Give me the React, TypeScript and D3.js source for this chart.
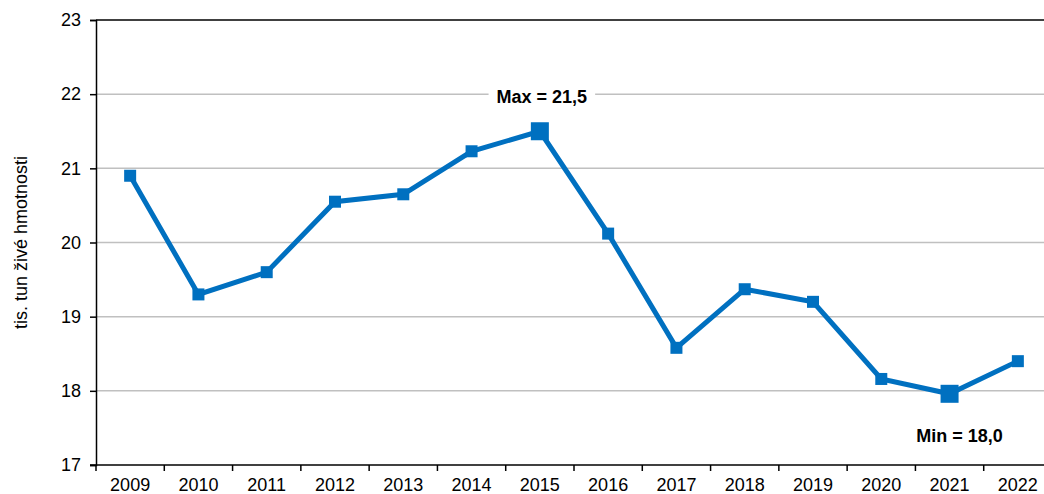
import React, { useEffect, useRef } from 'react';
import * as d3 from 'd3';

const years = ['2009', '2010', '2011', '2012', '2013', '2014', '2015', '2016', '2017', '2018', '2019', '2020', '2021', '2022'];
const values = [20.9, 19.3, 19.6, 20.55, 20.65, 21.23, 21.5, 20.12, 18.58, 19.37, 19.2, 18.16, 17.96, 18.4];
const yTicks = [17, 18, 19, 20, 21, 22, 23];

const App = () => {
    const ref = useRef<SVGSVGElement>(null);

    useEffect(() => {
        if (!ref.current) return;
        const width = 1044;
        const height = 494;
        const left = 96;
        const top = 20;
        const bottom = 465;
        const right = 1052;

        const svg = d3.select(ref.current);
        svg.selectAll('*').remove();
        svg.attr('width', width).attr('height', height)
           .style('font-family', 'Liberation Sans, Arial, sans-serif');

        const x = d3.scaleBand().domain(years).range([left, right]).padding(0);
        const y = d3.scaleLinear().domain([17, 23]).range([bottom, top]);

        // gridlines
        svg.append('g')
           .selectAll('line')
           .data(yTicks.filter(t => t > 17 && t < 23))
           .enter().append('line')
           .attr('x1', left).attr('x2', width)
           .attr('y1', d => y(d)).attr('y2', d => y(d))
           .attr('stroke', '#c0c0c0').attr('stroke-width', 1.5);

        // top border line
        svg.append('line')
           .attr('x1', left).attr('x2', width)
           .attr('y1', y(23)).attr('y2', y(23))
           .attr('stroke', '#000').attr('stroke-width', 1.5);

        // y axis
        const yAxis = svg.append('g')
           .attr('transform', `translate(${left},0)`)
           .call(d3.axisLeft(y).tickValues(yTicks).tickSize(6).tickFormat(d3.format('d')));
        yAxis.select('.domain').attr('stroke', '#000').attr('stroke-width', 1.5);
        yAxis.selectAll('.tick line').attr('stroke', '#000').attr('stroke-width', 1.5);
        yAxis.selectAll('text')
             .attr('font-size', 18).attr('fill', '#000').attr('x', -15)
             .style('font-family', 'Liberation Sans, Arial, sans-serif');

        // x axis with ticks between categories
        const xg = svg.append('g').attr('transform', `translate(0,${bottom})`);
        xg.append('line')
          .attr('x1', left - 6).attr('x2', width)
          .attr('y1', 0).attr('y2', 0)
          .attr('stroke', '#000').attr('stroke-width', 1.5);
        xg.selectAll('.xt')
          .data(years)
          .enter().append('line')
          .attr('class', 'xt')
          .attr('x1', d => x(d) as number).attr('x2', d => x(d) as number)
          .attr('y1', 0).attr('y2', 6)
          .attr('stroke', '#000').attr('stroke-width', 1.5);
        xg.selectAll('.xl')
          .data(years)
          .enter().append('text')
          .attr('class', 'xl')
          .attr('x', d => (x(d) as number) + x.bandwidth() / 2)
          .attr('y', 26)
          .attr('text-anchor', 'middle')
          .attr('font-size', 18)
          .text(d => d);

        // y axis title
        svg.append('text')
           .attr('transform', `translate(27,${(top + bottom) / 2}) rotate(-90)`)
           .attr('text-anchor', 'middle')
           .attr('font-size', 18)
           .text('tis. tun živé hmotnosti');

        const cx = (i: number) => (x(years[i]) as number) + x.bandwidth() / 2;

        // line
        const line = d3.line<number>()
           .x((_, i) => cx(i))
           .y(d => y(d));
        svg.append('path')
           .datum(values)
           .attr('d', line)
           .attr('fill', 'none')
           .attr('stroke', '#0070C0')
           .attr('stroke-width', 5)
           .attr('stroke-linejoin', 'miter');

        const maxV = d3.max(values) as number;
        const minV = d3.min(values) as number;
        const iMax = values.indexOf(maxV);
        const iMin = values.indexOf(minV);

        svg.append('g')
           .selectAll('rect')
           .data(values)
           .enter().append('rect')
           .attr('x', (d, i) => cx(i) - (i === iMax || i === iMin ? 9 : 6))
           .attr('y', (d, i) => y(d) - (i === iMax || i === iMin ? 9 : 6))
           .attr('width', (d, i) => (i === iMax || i === iMin ? 18 : 12))
           .attr('height', (d, i) => (i === iMax || i === iMin ? 18 : 12))
           .attr('fill', '#0070C0');

        // annotations
        const fmt = (v: number) => (Math.round(v * 10) / 10).toFixed(1).replace('.', ',');
        const addLabel = (txt: string, lx: number, ly: number) => {
            const g = svg.append('g');
            const t = g.append('text')
               .attr('x', lx).attr('y', ly)
               .attr('text-anchor', 'middle')
               .attr('dominant-baseline', 'central')
               .attr('font-size', 18)
               .attr('font-weight', 'bold')
               .text(txt);
            const bb = (t.node() as SVGTextElement).getBBox();
            g.insert('rect', 'text')
             .attr('x', bb.x - 8).attr('y', bb.y - 2)
             .attr('width', bb.width + 16).attr('height', bb.height + 4)
             .attr('fill', '#fff');
        };
        addLabel(`Max = ${fmt(maxV)}`, cx(iMax) + 2, 97);
        addLabel(`Min = ${fmt(minV)}`, cx(iMin) + 10, 436);
    }, []);

    return (
        <div>
            <svg ref={ref} style={{ position: 'absolute', left: 0, top: 0 }}></svg>
        </div>
    );
};

export default App;
